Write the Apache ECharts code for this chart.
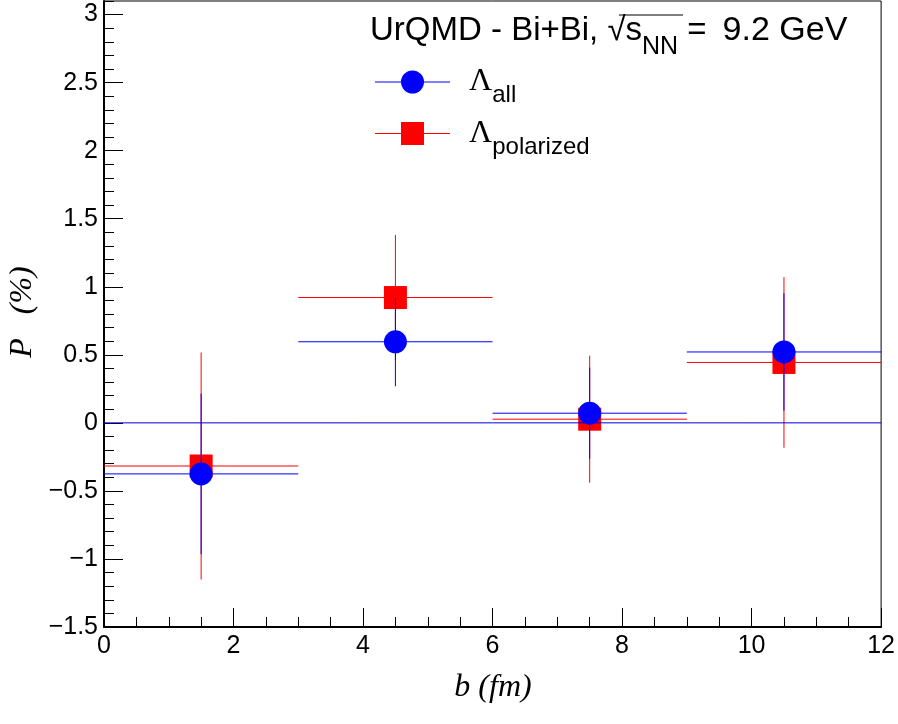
<!DOCTYPE html>
<html>
<head>
<meta charset="utf-8">
<script src="https://cdn.jsdelivr.net/npm/echarts@6/dist/echarts.min.js"></script>
<style>
  html, body { margin: 0; padding: 0; background: #fff; }
  #main { width: 898px; height: 724px; }
</style>
</head>
<body>
<div id="main"></div>
<script>
// impact parameter bins (fm)
var bCenters = [1.5, 4.5, 7.5, 10.5];
var bHalfWidth = [1.5, 1.5, 1.5, 1.5];
// polarization (%) of all lambdas
var allP = [-0.375, 0.596, 0.071, 0.521];
var allErr = [0.59, 0.327, 0.335, 0.432];
// polarization (%) of polarized lambdas
var polP = [-0.317, 0.921, 0.027, 0.444];
var polErr = [0.834, 0.46, 0.467, 0.627];
var zeroLine = [[0, 0], [12, 0]];

function makeData(vals, errs) {
  return bCenters.map(function (b, i) {
    return [b, vals[i], bHalfWidth[i], errs[i]];
  });
}

function errorRender(color) {
  return function (params, api) {
    var x = api.value(0), y = api.value(1), dx = api.value(2), dy = api.value(3);
    var l = api.coord([x - dx, y]), r = api.coord([x + dx, y]);
    var t = api.coord([x, y + dy]), b = api.coord([x, y - dy]);
    var st = { stroke: color, lineWidth: 1 };
    return {
      type: 'group',
      children: [
        { type: 'line', shape: { x1: l[0], y1: l[1], x2: r[0], y2: r[1] }, style: st },
        { type: 'line', shape: { x1: t[0], y1: t[1], x2: b[0], y2: b[1] }, style: st }
      ]
    };
  };
}

var chart = echarts.init(document.getElementById('main'));
var sans = 'Liberation Sans';
var serif = 'Liberation Serif';

var circleIcon = 'path://M0,11H26V12H0Z M49,11H75V12H49Z M26,11.5A11.5,11.5,0,1,1,49,11.5A11.5,11.5,0,1,1,26,11.5Z';
var squareIcon = 'path://M0,11H26V12H0Z M49,11H75V12H49Z M26,0H49V23H26Z';

var option = {
  animation: false,
  backgroundColor: '#fff',
  title: {
    text: '{m|UrQMD - Bi+Bi, }{m|√}{m|s}{sb|NN}{m| =}{g| }{e|9.2 GeV}{sp| }',
    left: 370,
    top: 14,
    padding: 0,
    textStyle: {
      fontWeight: 'normal',
      rich: {
        m: { fontFamily: sans, fontWeight: 'normal', fontSize: 33, color: '#000', lineHeight: 38, verticalAlign: 'top' },
        e: { fontFamily: sans, fontWeight: 'normal', fontSize: 34, color: '#000', lineHeight: 38, verticalAlign: 'top' },
        sb: { fontFamily: sans, fontWeight: 'normal', fontSize: 25, color: '#000', lineHeight: 2, verticalAlign: 'bottom' },
        g: { width: 16, fontSize: 10, lineHeight: 10, verticalAlign: 'top' },
        sp: { fontSize: 1, lineHeight: 46 }
      }
    }
  },
  legend: {
    orient: 'vertical',
    left: 375,
    top: 66,
    padding: 0,
    itemWidth: 75,
    itemHeight: 23,
    itemGap: 10,
    selectedMode: false,
    data: [
      { name: 'all', icon: circleIcon },
      { name: 'polarized', icon: squareIcon }
    ],
    formatter: function (name) {
      return '{g| }{L|Λ}{s|' + name + '}{sp| }';
    },
    textStyle: {
      rich: {
        g: { width: 14, fontSize: 10 },
        L: { fontFamily: serif, fontSize: 32, color: '#000', lineHeight: 40, verticalAlign: 'middle' },
        s: { fontFamily: sans, fontSize: 24, color: '#000', lineHeight: 10, verticalAlign: 'bottom' },
        sp: { fontSize: 1, lineHeight: 51 }
      }
    }
  },
  grid: {
    left: 104,
    right: 16,
    top: 1,
    bottom: 97,
    show: true,
    borderColor: '#000',
    borderWidth: 1,
    backgroundColor: 'transparent'
  },
  xAxis: {
    type: 'value',
    min: 0,
    max: 12,
    interval: 2,
    axisLine: { onZero: false, lineStyle: { color: '#000', width: 2 } },
    axisTick: { inside: true, length: 19, lineStyle: { color: '#000', width: 1 } },
    minorTick: { show: true, splitNumber: 4, length: 10, lineStyle: { color: '#000', width: 1 } },
    splitLine: { show: false },
    axisLabel: { fontFamily: sans, fontSize: 25, color: '#000', margin: 7 }
  },
  yAxis: [
    {
      type: 'value',
      min: -1.5,
      max: 3.1,
      interval: 0.5,
      axisLine: { onZero: false, lineStyle: { color: '#000', width: 2 } },
      axisTick: { inside: true, length: 19, lineStyle: { color: '#000', width: 1 } },
      splitLine: { show: false },
      axisLabel: {
        fontFamily: sans, fontSize: 25, color: '#000', margin: 6, showMaxLabel: false,
        formatter: function (v) { return String(v).replace('-', '\u2212'); }
      }
    },
    {
      // minor ticks
      type: 'value',
      position: 'left',
      min: -1.5,
      max: 3.1,
      interval: 0.1,
      axisLine: { show: false, onZero: false },
      axisTick: { inside: true, length: 10, lineStyle: { color: '#000', width: 1 } },
      axisLabel: { show: false },
      splitLine: { show: false }
    }
  ],
  graphic: [
    {
      type: 'text', x: 23, y: 312, rotation: Math.PI / 2,
      style: { text: 'P   (%)', fontFamily: serif, fontStyle: 'italic', fontSize: 32, fill: '#000', align: 'center', verticalAlign: 'middle' }
    },
    {
      type: 'text', x: 493, y: 688,
      style: { text: 'b (fm)', fontFamily: serif, fontStyle: 'italic', fontSize: 32, fill: '#000', align: 'center', verticalAlign: 'middle' }
    },
    {
      type: 'line', shape: { x1: 619, y1: 15, x2: 683, y2: 15 }, style: { stroke: '#000', lineWidth: 1 }
    }
  ],
  series: [
    {
      type: 'custom',
      name: 'polErr',
      renderItem: errorRender('#ff0000'),
      data: makeData(polP, polErr),
      z: 2
    },
    {
      type: 'scatter',
      name: 'polarized',
      data: bCenters.map(function (b, i) { return [b, polP[i]]; }),
      symbol: 'rect',
      symbolSize: 23,
      itemStyle: { color: '#ff0000', opacity: 1 },
      z: 3
    },
    {
      type: 'line',
      name: 'zero',
      data: zeroLine,
      symbol: 'none',
      lineStyle: { color: '#0000dd', width: 1 },
      z: 4
    },
    {
      type: 'custom',
      name: 'allErr',
      renderItem: errorRender('#0000ff'),
      data: makeData(allP, allErr),
      z: 5
    },
    {
      type: 'scatter',
      name: 'all',
      data: bCenters.map(function (b, i) { return [b, allP[i]]; }),
      symbol: 'circle',
      symbolSize: 23,
      itemStyle: { color: '#0000ff', opacity: 1 },
      z: 6
    }
  ]
};

chart.setOption(option);
</script>
</body>
</html>
